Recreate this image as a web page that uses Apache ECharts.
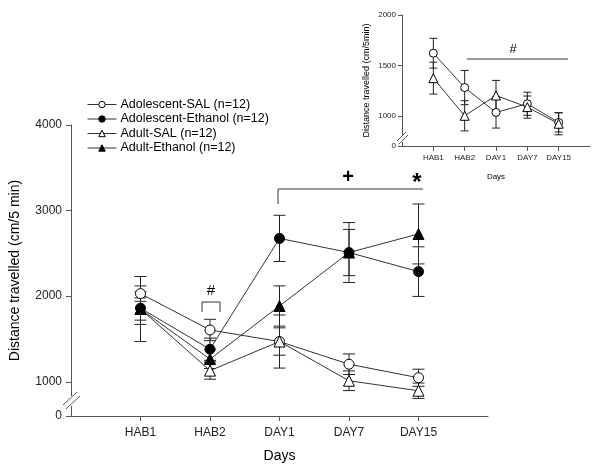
<!DOCTYPE html>
<html>
<head>
<meta charset="utf-8">
<script src="https://cdn.jsdelivr.net/npm/echarts@6/dist/echarts.min.js"></script>
<style>
  html, body { margin: 0; padding: 0; background: #fff; }
  #main { width: 602px; height: 468px; }
</style>
</head>
<body>
<div id="main"></div>
<script>
// categories
var days = ['HAB1', 'HAB2', 'DAY1', 'DAY7', 'DAY15'];

// main chart, mean and SEM per group
var adolSal     = [2030, 1605, 1470, 1205, 1047];
var adolSalErr  = [90, 125, 160, 120, 100];
var adolEth     = [1860, 1380, 2675, 2510, 2287];
var adolEthErr  = [190, 130, 270, 270, 290];
var adultSal    = [1850, 1130, 1470, 1012, 895];
var adultSalErr = [380, 100, 310, 115, 90];
var adultEth    = [1850, 1265, 1885, 2510, 2727];
var adultEthErr = [130, 110, 235, 350, 350];

// inset chart
var insetCircle     = [1621, 1280, 1033, 1119, 934];
var insetCircleErr  = [148, 170, 155, 115, 95];
var insetTriangle    = [1373, 1000, 1201, 1086, 921];
var insetTriangleErr = [158, 150, 150, 110, 110];

// tick labels (axis bottom is a broken "0")
var mainTicks  = [600, 1000, 2000, 3000, 4000];
var insetTicks = [700, 1000, 1500, 2000];

var FONT = 'Liberation Sans, Arial, sans-serif';
var axisCats = [''].concat(days, ['']);   // empty slot at both ends
function pad(arr){ return [null].concat(arr, [null]); }

function errData(vals, errs){
    var out = [];
    for (var i = 0; i < vals.length; i++) out.push([i + 1, vals[i], errs[i]]);
    return out;
}
function errSeries(vals, errs, idx, cap){
    return {
        type: 'custom',
        xAxisIndex: idx, yAxisIndex: idx,
        z: 1, silent: true,
        data: errData(vals, errs),
        renderItem: function(params, api){
            var x = api.value(0), v = api.value(1), e = api.value(2);
            var top = api.coord([x, v + e]), bot = api.coord([x, v - e]);
            var st = {stroke: '#222', lineWidth: 1};
            return {type: 'group', children: [
                {type: 'line', shape: {x1: top[0], y1: top[1], x2: bot[0], y2: bot[1]}, style: st},
                {type: 'line', shape: {x1: top[0] - cap, y1: top[1], x2: top[0] + cap, y2: top[1]}, style: st},
                {type: 'line', shape: {x1: bot[0] - cap, y1: bot[1], x2: bot[0] + cap, y2: bot[1]}, style: st}
            ]};
        }
    };
}
function lineSeries(name, vals, idx, sym, filled, size){
    return {
        name: name, type: 'line',
        xAxisIndex: idx, yAxisIndex: idx,
        data: pad(vals), z: 3,
        symbol: sym, symbolSize: size, showAllSymbol: true,
        lineStyle: {color: '#333', width: 1},
        itemStyle: {color: filled ? '#000' : '#fff', borderColor: '#000', borderWidth: 1, opacity: 1},
        emphasis: {disabled: true},
        animation: false
    };
}
function xAxisCfg(idx, fs, nameFs, margin, nameGap){
    return {
        gridIndex: idx, type: 'category', data: axisCats, boundaryGap: false,
        name: 'Days', nameLocation: 'middle', nameGap: nameGap,
        nameTextStyle: {color: '#000', fontFamily: FONT, fontSize: nameFs},
        axisLine: {lineStyle: {color: '#555', width: 1}},
        axisTick: {alignWithLabel: true, length: 5, lineStyle: {color: '#555'},
                   interval: function(i){ return i > 0 && i < axisCats.length - 1; }},
        axisLabel: {color: '#222', fontFamily: FONT, fontSize: fs, margin: margin, interval: 0},
        splitLine: {show: false}
    };
}
function yAxisCfg(idx, min, max, ticks, fs, nameFs, nameGap){
    return {
        gridIndex: idx, type: 'value', min: min, max: max,
        name: 'Distance travelled (cm/5' + (idx ? '' : ' ') + 'min)', nameLocation: 'middle', nameGap: nameGap,
        nameTextStyle: {color: '#000', fontFamily: FONT, fontSize: nameFs},
        axisLine: {show: true, lineStyle: {color: '#555', width: 1}},
        axisTick: {show: true, length: idx ? 4 : 5, customValues: ticks, lineStyle: {color: '#555'}},
        axisLabel: {color: '#222', fontFamily: FONT, fontSize: fs, margin: idx ? 6 : 9, customValues: ticks,
                    formatter: function(v){ return v === ticks[0] ? '0' : String(v); }},
        splitLine: {show: false}
    };
}

var chart = echarts.init(document.getElementById('main'));
var legendNames = ['Adolescent-SAL (n=12)', 'Adolescent-Ethanol (n=12)', 'Adult-SAL (n=12)', 'Adult-Ethanol (n=12)'];

var option = {
    animation: false,
    backgroundColor: '#fff',
    grid: [
        {left: 71, top: 125, width: 417, height: 292},
        {left: 402, top: 15, width: 188, height: 131}
    ],
    legend: {
        data: legendNames, orient: 'vertical', left: 82, top: 93,
        itemWidth: 29, itemHeight: 8, itemGap: 1.5,
        lineStyle: {width: 1, color: '#333'},
        itemStyle: {borderWidth: 1},
        textStyle: {color: '#000', fontFamily: FONT, fontSize: 12.5, padding: [0, 0, 0, -1]}
    },
    xAxis: [xAxisCfg(0, 12, 14, 11, 33), xAxisCfg(1, 8, 8, 8, 27)],
    yAxis: [yAxisCfg(0, 600, 4000, mainTicks, 12, 14, 49), yAxisCfg(1, 700, 2000, insetTicks, 8, 9, 31)],
    series: [
        errSeries(adolSal, adolSalErr, 0, 6),
        errSeries(adolEth, adolEthErr, 0, 6),
        errSeries(adultSal, adultSalErr, 0, 6),
        errSeries(adultEth, adultEthErr, 0, 6),
        lineSeries(legendNames[0], adolSal, 0, 'circle', false, 10),
        lineSeries(legendNames[1], adolEth, 0, 'circle', true, 10),
        lineSeries(legendNames[2], adultSal, 0, 'triangle', false, 11),
        lineSeries(legendNames[3], adultEth, 0, 'triangle', true, 11),
        errSeries(insetCircle, insetCircleErr, 1, 4),
        errSeries(insetTriangle, insetTriangleErr, 1, 4),
        lineSeries('inset-circle', insetCircle, 1, 'circle', false, 8),
        lineSeries('inset-triangle', insetTriangle, 1, 'triangle', false, 9)
    ],
    graphic: [
        // axis breaks
        {type: 'rect', shape: {x: 69, y: 396, width: 4, height: 10}, style: {fill: '#fff'}, z: 10},
        {type: 'line', shape: {x1: 63, y1: 405, x2: 77, y2: 392}, style: {stroke: '#555', lineWidth: 1}, z: 11},
        {type: 'line', shape: {x1: 66, y1: 409, x2: 80, y2: 396}, style: {stroke: '#555', lineWidth: 1}, z: 11},
        {type: 'rect', shape: {x: 400, y: 136, width: 4, height: 6}, style: {fill: '#fff'}, z: 10},
        {type: 'line', shape: {x1: 397, y1: 141, x2: 406, y2: 132}, style: {stroke: '#555', lineWidth: 1}, z: 11},
        {type: 'line', shape: {x1: 399, y1: 144, x2: 408, y2: 135}, style: {stroke: '#555', lineWidth: 1}, z: 11},
        // significance marks, main chart
        {type: 'polyline', shape: {points: [[202, 312], [202, 302], [220, 302], [220, 312]]}, style: {stroke: '#333', fill: null, lineWidth: 1}, z: 5},
        {type: 'text', x: 211, y: 291, style: {text: '#', fontFamily: FONT, fontSize: 15, fill: '#000', align: 'center', verticalAlign: 'middle'}, z: 5},
        {type: 'polyline', shape: {points: [[278, 204], [278, 189], [423, 189]]}, style: {stroke: '#333', fill: null, lineWidth: 1}, z: 5},
        {type: 'text', x: 348, y: 177, style: {text: '+', fontFamily: FONT, fontSize: 20, fontWeight: 'bold', fill: '#000', align: 'center', verticalAlign: 'middle'}, z: 5},
        {type: 'text', x: 417, y: 183, style: {text: '*', fontFamily: FONT, fontSize: 24, fontWeight: 'bold', fill: '#000', align: 'center', verticalAlign: 'middle'}, z: 5},
        // inset mark
        {type: 'line', shape: {x1: 467, y1: 59, x2: 568, y2: 59}, style: {stroke: '#333', lineWidth: 1}, z: 5},
        {type: 'text', x: 513, y: 49, style: {text: '#', fontFamily: FONT, fontSize: 13, fill: '#000', align: 'center', verticalAlign: 'middle'}, z: 5}
    ]
};
chart.setOption(option);
</script>
</body>
</html>
